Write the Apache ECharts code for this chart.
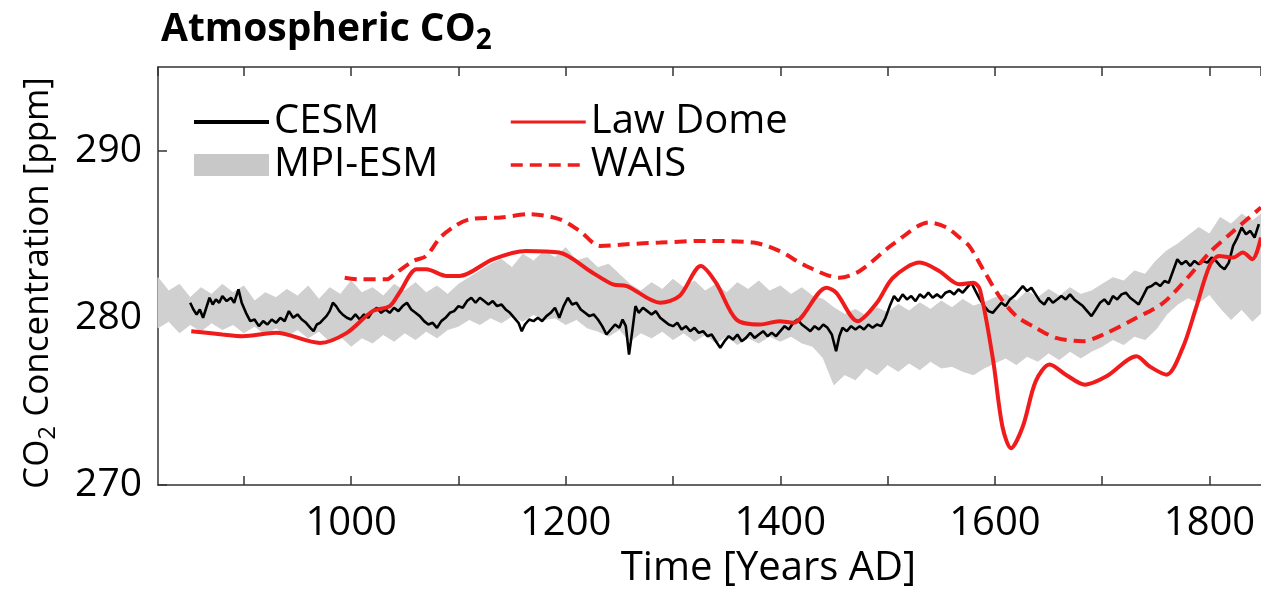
<!DOCTYPE html>
<html>
<head>
<meta charset="utf-8">
<script src="https://cdn.jsdelivr.net/npm/echarts@6/dist/echarts.min.js"></script>
<style>
  html, body { margin: 0; padding: 0; background: #fff; }
  #chart { width: 1261px; height: 594px; }
</style>
</head>
<body>
<div id="chart"></div>
<script>
// MPI-ESM range (grey band), read every 10 years
var mpiYears = [820,830,840,850,860,870,880,890,900,910,
  920,930,940,950,960,970,980,990,1000,1010,
  1020,1030,1040,1050,1060,1070,1080,1090,1100,1110,
  1120,1130,1140,1150,1160,1170,1180,1190,1200,1210,
  1220,1230,1240,1250,1260,1270,1280,1290,1300,1310,
  1320,1330,1340,1350,1360,1370,1380,1390,1400,1410,
  1420,1430,1440,1450,1460,1470,1480,1490,1500,1510,
  1520,1530,1540,1550,1560,1570,1580,1590,1600,1610,
  1620,1630,1640,1650,1660,1670,1680,1690,1700,1710,
  1720,1730,1740,1750,1760,1770,1780,1790,1800,1810,
  1820,1830,1840,1850];
var mpiHigh = [282.4,281.6,282.0,281.2,281.8,281.4,282.0,281.5,281.9,281.0,
  281.5,281.2,281.7,281.3,281.9,281.1,281.8,281.4,282.2,281.5,
  281.8,281.3,282.0,281.6,282.1,281.5,281.9,281.4,282.0,282.4,
  282.8,283.2,283.5,283.0,283.8,283.4,284.0,283.6,284.2,283.4,
  283.6,283.0,283.2,282.6,282.0,281.6,282.1,281.7,282.3,281.8,
  282.2,281.6,282.0,281.5,282.1,281.7,282.2,281.6,281.9,281.4,
  281.8,281.3,281.1,280.6,280.2,280.5,280.1,280.6,280.3,280.8,
  280.4,280.9,280.5,281.0,280.6,281.1,280.7,280.9,281.2,281.4,
  281.0,281.6,281.2,281.7,281.3,281.8,281.4,281.6,282.0,282.4,
  282.2,282.8,282.6,283.4,284.0,284.4,284.9,285.4,285.0,286.0,
  285.6,286.2,285.8,286.3];
var mpiLow = [279.4,279.8,279.1,279.6,279.2,279.7,279.3,279.6,279.1,279.5,
  279.0,279.4,278.9,279.3,278.8,279.2,278.6,278.9,278.3,278.8,
  278.5,279.0,278.6,279.1,278.7,279.2,278.8,279.3,279.5,279.9,
  279.6,280.0,279.7,280.1,279.8,280.2,279.9,280.0,279.6,279.9,
  279.4,279.2,278.9,279.3,278.6,279.1,278.8,279.2,278.7,279.1,
  278.6,279.0,278.5,278.9,278.4,278.8,278.5,278.9,278.6,278.9,
  278.5,278.3,277.6,276.0,276.6,276.3,277.0,276.6,277.2,276.8,
  277.3,276.9,277.4,277.0,277.1,276.8,276.6,277.0,277.3,277.6,
  277.2,277.7,277.4,277.9,277.5,278.0,277.6,278.0,278.3,278.7,
  278.4,278.9,278.7,279.3,280.2,280.8,281.2,280.9,281.4,280.6,
  279.9,280.5,279.8,280.4];

// CESM
var cesmYears = [850,853,856,859,862,865,868,871,874,877,880,884,888,891,895,898,902,906,910,914,
  918,922,926,930,934,938,942,946,950,954,958,962,965,968,971,974,977,980,983,986,
  989,992,996,1000,1004,1008,1012,1016,1020,1024,1028,1032,1036,1040,1044,1048,1052,1056,1060,1064,
  1068,1072,1076,1080,1084,1088,1092,1096,1100,1104,1108,1112,1116,1120,1124,1128,1132,1136,1140,1144,
  1148,1152,1156,1159,1162,1166,1170,1174,1178,1182,1186,1190,1194,1198,1202,1206,1210,1214,1218,1222,
  1226,1230,1234,1238,1242,1246,1250,1253,1256,1259,1262,1265,1268,1272,1276,1280,1284,1288,1292,1296,
  1300,1304,1308,1312,1316,1320,1324,1328,1332,1336,1340,1344,1348,1352,1356,1360,1364,1368,1372,1376,
  1380,1384,1388,1392,1396,1400,1404,1408,1412,1416,1420,1424,1428,1432,1436,1440,1444,1448,1452,1455,
  1458,1462,1466,1470,1474,1478,1482,1486,1490,1494,1498,1502,1506,1510,1514,1518,1522,1526,1530,1534,
  1538,1542,1546,1550,1554,1558,1562,1566,1570,1574,1578,1582,1586,1590,1594,1598,1602,1606,1610,1614,
  1618,1622,1626,1630,1634,1638,1642,1646,1650,1654,1658,1662,1666,1670,1674,1678,1682,1686,1690,1694,
  1698,1702,1706,1710,1714,1718,1722,1726,1730,1734,1738,1742,1746,1750,1754,1758,1762,1766,1770,1774,
  1778,1782,1786,1790,1794,1798,1802,1806,1810,1814,1818,1822,1826,1830,1834,1838,1842,1846];
var cesmValues = [280.9,280.5,280.2,280.5,280.0,280.6,281.2,280.8,281.1,280.9,281.3,281.0,281.2,280.9,281.7,280.9,280.3,279.8,279.9,279.5,
  279.8,279.6,279.9,279.7,280.0,279.8,280.4,280.0,280.2,279.9,279.7,279.4,279.2,279.6,279.7,279.9,280.1,280.4,280.9,280.7,
  280.4,280.2,280.0,279.9,280.2,279.9,280.2,280.0,280.4,280.6,280.3,280.5,280.3,280.6,280.4,280.7,280.9,280.5,280.3,280.1,
  279.8,279.6,279.7,279.4,279.8,280.0,280.3,280.4,280.7,280.6,281.0,281.2,280.9,281.2,281.0,280.8,281.0,280.7,280.8,280.5,
  280.3,280.0,279.7,279.2,279.6,279.9,279.8,280.0,279.8,280.1,280.3,280.6,280.0,280.7,281.2,280.8,280.9,280.5,280.3,280.1,
  280.2,279.9,279.5,279.0,279.3,279.6,279.4,279.9,279.5,277.8,279.2,280.7,280.3,280.6,280.4,280.2,280.4,280.0,279.8,279.6,
  279.5,279.7,279.3,279.5,279.2,279.4,279.1,279.2,278.9,279.0,278.6,278.2,278.6,278.9,278.7,279.0,278.6,278.8,279.1,278.8,
  279.0,279.2,278.9,279.1,278.9,279.2,279.5,279.3,279.7,279.9,279.6,279.4,279.2,279.5,279.3,279.6,279.4,279.0,278.0,278.9,
  279.4,279.2,279.5,279.3,279.5,279.3,279.6,279.4,279.6,279.5,280.0,280.7,281.3,281.0,281.4,281.1,281.3,281.0,281.4,281.2,
  281.5,281.2,281.4,281.2,281.5,281.6,281.4,281.7,281.5,281.8,282.1,281.6,281.1,280.7,280.4,280.3,280.6,280.9,280.7,281.1,
  281.3,281.6,281.9,281.6,281.8,281.4,281.0,280.8,281.2,280.9,281.1,281.3,281.1,281.4,281.1,280.9,280.7,280.4,280.1,280.5,
  280.9,281.1,280.8,281.3,281.1,281.4,281.5,281.2,281.0,280.8,281.3,281.8,281.9,282.1,281.9,282.2,282.1,282.8,283.5,283.2,
  283.4,283.1,283.4,283.2,283.4,283.3,283.6,283.4,283.1,282.9,283.3,284.3,284.8,285.4,285.0,285.2,284.8,285.6];

// Law Dome ice core
var lawYears = [851,880,899,930,971,996,1020,1036,1045,1061,1070,1089,1101,1132,1163,1194,1225,1244,1257,1288,
  1306,1326,1340,1359,1381,1399,1412,1443,1452,1472,1490,1505,1530,1548,1567,1580,1586,1598,1607,1615,
  1626,1638,1651,1666,1684,1704,1732,1744,1760,1775,1787,1800,1809,1822,1831,1840,1848];
var lawValues = [279.2,279.0,278.9,279.1,278.5,279.1,280.4,280.7,281.5,282.9,282.9,282.5,282.5,283.5,284.0,283.9,282.7,282.0,281.9,280.9,
  281.3,283.1,282.1,279.9,279.6,279.8,279.7,281.8,281.5,279.8,280.9,282.4,283.3,282.8,282.0,282.1,281.7,277.6,273.5,272.2,
  273.5,276.2,277.2,276.6,276.0,276.5,277.7,277.1,276.6,278.2,280.5,283.1,283.7,283.6,283.9,283.5,284.8];

// WAIS Divide ice core
var waisYears = [994,1008,1033,1042,1058,1070,1083,1097,1111,1140,1166,1194,1213,1232,1257,1288,1331,1375,1399,1424,
  1455,1474,1505,1539,1555,1567,1576,1589,1604,1620,1638,1657,1682,1701,1732,1757,1781,1800,1819,1837,1848];
var waisValues = [282.4,282.3,282.3,282.7,283.4,283.7,284.8,285.5,285.9,286.0,286.2,285.9,285.2,284.3,284.4,284.5,284.6,284.5,284.0,283.1,
  282.4,282.8,284.4,285.7,285.4,284.8,284.3,282.9,281.3,280.1,279.4,278.8,278.6,279.0,280.0,280.9,282.5,283.9,285.0,286.0,286.6];

function pairs(xs, ys) {
  var out = [];
  for (var i = 0; i < xs.length; i++) out.push([xs[i], ys[i]]);
  return out;
}

var FONT = '"Open Sans", "Noto Sans", sans-serif';
var AXIS_COLOR = '#333';
var RED = '#f01c1c';
var GREY = '#d0d0d0';

// grey band drawn as one polygon: upper edge forward, lower edge back
function renderBand(params, api) {
  if (params.dataIndex !== 0) return null;
  var pts = [];
  for (var i = 0; i < mpiYears.length; i++) pts.push(api.coord([mpiYears[i], mpiHigh[i]]));
  for (var j = mpiYears.length - 1; j >= 0; j--) pts.push(api.coord([mpiYears[j], mpiLow[j]]));
  return {
    type: 'polygon',
    shape: { points: pts },
    style: { fill: GREY, stroke: GREY, lineWidth: 1 }
  };
}

var chart = echarts.init(document.getElementById('chart'));

var legendText = { fontFamily: FONT, fontSize: 40, lineHeight: 40, color: '#000' };

var option = {
  animation: false,
  backgroundColor: '#fff',
  title: {
    text: 'Atmospheric CO{s|2}',
    left: 156,
    top: 0,
    textStyle: {
      fontFamily: FONT, fontSize: 39, fontWeight: 'bold', color: '#000',
      rich: { s: { fontFamily: FONT, fontSize: 28, fontWeight: 'bold', color: '#000', padding: [22, 0, 0, 0] } }
    }
  },
  legend: [
    {
      left: 192, top: 102, orient: 'vertical', padding: 0,
      itemWidth: 75, itemHeight: 22, itemGap: 3, selectedMode: false,
      textStyle: legendText,
      data: [
        { name: 'CESM', lineStyle: { width: 4 }, itemStyle: { opacity: 0 } },
        { name: 'MPI-ESM', icon: 'rect', itemStyle: { color: '#c8c8c8' } }
      ]
    },
    {
      left: 509, top: 102, orient: 'vertical', padding: 0,
      itemWidth: 75, itemHeight: 22, itemGap: 3, selectedMode: false,
      textStyle: legendText,
      data: [
        { name: 'Law Dome', lineStyle: { width: 3 }, itemStyle: { opacity: 0 } },
        { name: 'WAIS', lineStyle: { width: 3.5 }, itemStyle: { opacity: 0 } }
      ]
    }
  ],
  grid: { left: 158, top: 67, right: 0, bottom: 100 },
  xAxis: [
    {
      type: 'value', position: 'bottom', min: 820, max: 1848,
      minInterval: 100, maxInterval: 100,
      axisLine: { lineStyle: { color: AXIS_COLOR, width: 1.5 } },
      axisTick: { inside: true, length: 9, lineStyle: { color: AXIS_COLOR, width: 1.5 } },
      splitLine: { show: false },
      axisLabel: {
        fontFamily: FONT, fontSize: 40, color: '#000', margin: 19,
        showMinLabel: false, showMaxLabel: false,
        formatter: function (v) { return v % 200 === 0 ? String(v) : ''; }
      },
      name: 'Time [Years AD]', nameLocation: 'middle', nameGap: 64,
      nameTextStyle: { fontFamily: FONT, fontSize: 40, color: '#000', padding: [0, 0, 0, 118] }
    },
    {
      type: 'value', position: 'top', min: 820, max: 1848,
      minInterval: 100, maxInterval: 100,
      axisLine: { lineStyle: { color: AXIS_COLOR, width: 1.5 } },
      axisTick: { inside: true, length: 9, lineStyle: { color: AXIS_COLOR, width: 1.5 } },
      axisLabel: { show: false },
      splitLine: { show: false }
    }
  ],
  yAxis: {
    type: 'value', min: 270, max: 295, interval: 10,
    axisLine: { show: true, lineStyle: { color: AXIS_COLOR, width: 1.5 } },
    axisTick: { show: true, inside: true, length: 9, lineStyle: { color: AXIS_COLOR, width: 1.5 } },
    splitLine: { show: false },
    axisLabel: {
      fontFamily: FONT, fontSize: 39, color: '#000', margin: 16, showMaxLabel: false,
      formatter: function (v) { return v % 10 === 0 ? String(v) : ''; }
    },
    name: 'CO{s|2} Concentration [ppm]', nameLocation: 'middle', nameGap: 98,
    nameTextStyle: {
      fontFamily: FONT, fontSize: 35, color: '#000', padding: [0, 14, 0, 0],
      rich: { s: { fontFamily: FONT, fontSize: 24, color: '#000', padding: [20, 0, 0, 0] } }
    }
  },
  series: [
    {
      name: 'MPI-ESM', type: 'custom', data: pairs(mpiYears, mpiHigh),
      renderItem: renderBand, itemStyle: { color: '#c8c8c8' }, silent: true, z: 1
    },
    {
      name: 'CESM', type: 'line', data: pairs(cesmYears, cesmValues),
      symbol: 'none', itemStyle: { color: '#000' },
      lineStyle: { color: '#000', width: 2.6 }, z: 2
    },
    {
      name: 'WAIS', type: 'line', data: pairs(waisYears, waisValues),
      symbol: 'none', smooth: 0.3, itemStyle: { color: RED },
      lineStyle: { color: RED, width: 4, type: [12, 7] }, z: 3
    },
    {
      name: 'Law Dome', type: 'line', data: pairs(lawYears, lawValues),
      symbol: 'none', smooth: 0.3, itemStyle: { color: RED },
      lineStyle: { color: RED, width: 4 }, z: 4
    }
  ]
};

chart.setOption(option);
</script>
</body>
</html>
